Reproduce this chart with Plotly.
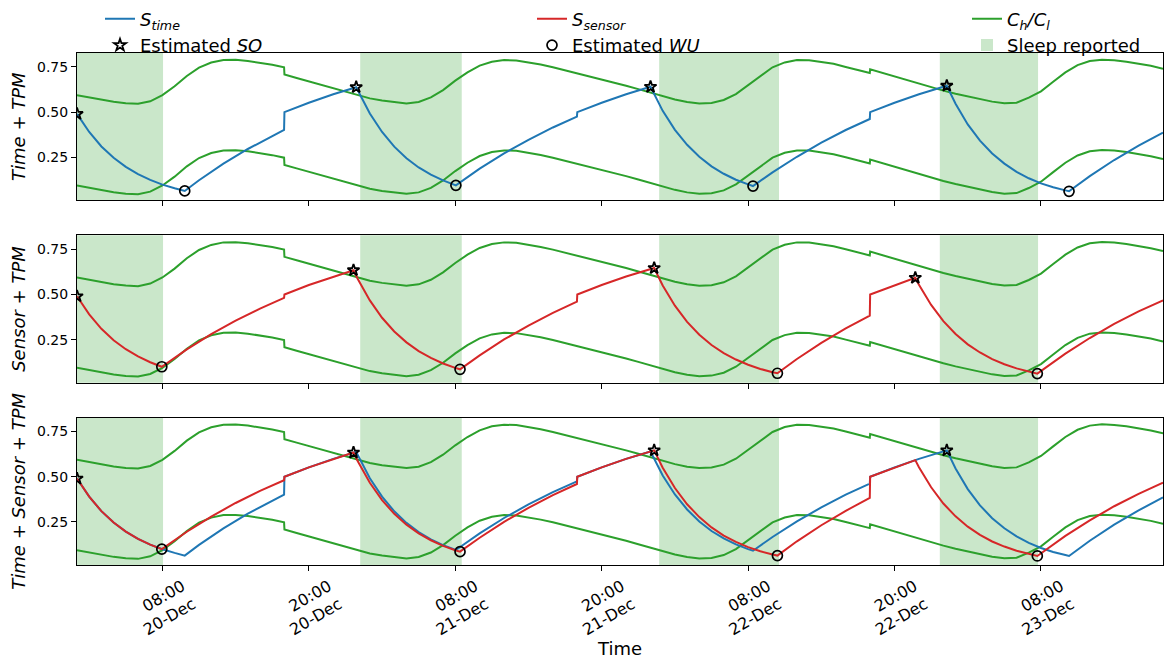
import pandas as pd
import plotly.graph_objects as go
from plotly.subplots import make_subplots

# Time axis: hours elapsed since 20-Dec 00:00
DAY0 = pd.Timestamp("2019-12-20 00:00")

# Circadian thresholds (upper C_h and lower C_l), sampled hourly
THRESH_HOURS = [1, 2, 3, 4, 5, 6, 7, 8, 9, 10, 11, 12, 13, 14, 15, 16, 17, 17.97,
                18, 19, 20, 21, 22, 23, 24, 25, 26, 27, 28, 29, 30, 31, 32, 33, 34, 35,
                36, 37, 38, 39, 40, 41, 41.97, 42, 43, 44, 45, 46, 47, 48, 49, 50, 51,
                52, 53, 54, 55, 56, 57, 58, 59, 60, 61, 62, 63, 64, 65, 65.97, 66, 67,
                68, 69, 70, 71, 72, 73, 74, 75, 76, 77, 78, 79, 80, 81, 82, 83, 84, 85,
                86, 87, 88, 89, 90]
C_HIGH = [0.594, 0.581, 0.568, 0.557, 0.549, 0.546, 0.560, 0.594, 0.643, 0.700, 0.746,
          0.774, 0.788, 0.789, 0.783, 0.774, 0.762, 0.748,
          0.708, 0.689, 0.670, 0.650, 0.630, 0.610, 0.591, 0.576, 0.564, 0.554, 0.548,
          0.556, 0.581, 0.622, 0.674, 0.720, 0.757, 0.779,
          0.788, 0.786, 0.776, 0.763, 0.748, 0.731, 0.714, 0.717, 0.700, 0.682, 0.664,
          0.646, 0.627, 0.608, 0.588, 0.570, 0.556,
          0.548, 0.551, 0.567, 0.600, 0.650, 0.703, 0.748, 0.775, 0.788, 0.787, 0.779,
          0.767, 0.750, 0.733, 0.716, 0.737, 0.717,
          0.697, 0.677, 0.657, 0.637, 0.619, 0.602, 0.586, 0.571, 0.558, 0.549, 0.552,
          0.580, 0.615, 0.668, 0.720, 0.760, 0.783, 0.790,
          0.787, 0.779, 0.768, 0.756, 0.740]
C_LOW = [0.094, 0.081, 0.068, 0.057, 0.049, 0.046, 0.060, 0.094, 0.143, 0.200, 0.246,
         0.274, 0.288, 0.289, 0.283, 0.274, 0.262, 0.248,
         0.208, 0.189, 0.170, 0.150, 0.130, 0.110, 0.091, 0.076, 0.064, 0.054, 0.048,
         0.056, 0.081, 0.122, 0.174, 0.220, 0.257, 0.279,
         0.288, 0.286, 0.276, 0.263, 0.248, 0.231, 0.214, 0.217, 0.200, 0.182, 0.164,
         0.146, 0.127, 0.108, 0.088, 0.070, 0.056,
         0.048, 0.051, 0.067, 0.100, 0.150, 0.203, 0.248, 0.275, 0.288, 0.287, 0.279,
         0.267, 0.250, 0.233, 0.216, 0.237, 0.217,
         0.197, 0.177, 0.157, 0.137, 0.119, 0.102, 0.086, 0.071, 0.058, 0.049, 0.052,
         0.080, 0.115, 0.168, 0.220, 0.260, 0.283, 0.290,
         0.287, 0.279, 0.268, 0.256, 0.240]

# Homeostatic pressure driven by time of day (S_time)
S_TIME_HOURS = [1, 2, 3, 4, 5, 6, 7, 8, 9, 9.83, 11, 13, 15, 17, 17.97, 18, 20, 22,
                23.88, 25, 26, 27, 28, 29, 30, 31, 32.05, 34, 36, 38, 40, 41.97, 42, 44,
                46, 48.0, 49, 50, 51, 52, 53, 54, 55, 56, 56.4, 58, 60, 62, 64, 65.97,
                66, 68, 70, 72.28, 73, 74, 75, 76, 77, 78, 79, 80, 81, 82, 82.3, 84, 86,
                88, 90]
S_TIME = [0.490, 0.390, 0.310, 0.247, 0.197, 0.157, 0.125, 0.099, 0.079, 0.064, 0.123,
          0.215, 0.296, 0.369, 0.401, 0.500, 0.552, 0.599,
          0.638, 0.492, 0.390, 0.309, 0.245, 0.194, 0.154, 0.122, 0.095, 0.187, 0.272,
          0.347, 0.415, 0.475, 0.500, 0.552,
          0.599, 0.640, 0.507, 0.402, 0.319, 0.253, 0.200, 0.159, 0.126, 0.100, 0.091,
          0.167, 0.253, 0.331, 0.401, 0.462,
          0.500, 0.552, 0.599, 0.646, 0.546, 0.432, 0.342, 0.271, 0.215, 0.170, 0.134,
          0.106, 0.084, 0.067, 0.062, 0.146, 0.235,
          0.314, 0.386]

# Homeostatic pressure driven by the sensor (S_sensor)
S_SENSOR_HOURS = [1, 2, 3, 4, 5, 6, 7, 7.95, 10, 12, 14, 16, 17.97, 18, 20, 22, 23.66,
                  24, 25, 26, 27, 28, 29, 30, 31, 32, 32.39, 34, 36, 38, 40, 41.97, 42,
                  44, 46, 48.3, 49, 50, 51, 52, 53, 54, 55, 56, 57, 58, 58.4, 60, 62, 64,
                  65.97, 66, 68, 69.7, 70, 71, 72, 73, 74, 75, 76, 77, 78, 79, 79.7, 82,
                  84, 86, 88, 90]
S_SENSOR = [0.490, 0.390, 0.310, 0.247, 0.197, 0.157, 0.125, 0.100, 0.196, 0.280, 0.355,
            0.422, 0.481, 0.500, 0.552, 0.599, 0.634,
            0.587, 0.467, 0.371, 0.295, 0.235, 0.187, 0.149, 0.118, 0.094, 0.086, 0.163,
            0.251, 0.328, 0.398, 0.460, 0.500,
            0.552, 0.599, 0.646, 0.550, 0.438, 0.348, 0.277, 0.220, 0.175, 0.140, 0.111,
            0.088, 0.070, 0.064, 0.143, 0.232, 0.312,
            0.383, 0.500, 0.552, 0.592, 0.553, 0.442, 0.352, 0.281, 0.224, 0.179, 0.142,
            0.114, 0.091, 0.072, 0.062, 0.173,
            0.259, 0.337, 0.406, 0.467]

# Estimated sleep onset (SO) and wake-up (WU) for each model
SO_TIME_HOURS, SO_TIME = [1, 23.88, 48.0, 72.28], [0.490, 0.638, 0.640, 0.646]
WU_TIME_HOURS, WU_TIME = [9.83, 32.05, 56.4, 82.3], [0.064, 0.095, 0.091, 0.062]
SO_SENSOR_HOURS, SO_SENSOR = [1, 23.66, 48.3, 69.7], [0.490, 0.634, 0.646, 0.592]
WU_SENSOR_HOURS, WU_SENSOR = [7.95, 32.39, 58.4, 79.7], [0.100, 0.086, 0.064, 0.062]
SO_BOTH_HOURS, SO_BOTH = [1, 23.66, 48.3, 72.28], [0.490, 0.634, 0.646, 0.646]
WU_BOTH_HOURS, WU_BOTH = [7.95, 32.39, 58.4, 79.7], [0.100, 0.086, 0.064, 0.062]

# Self-reported sleep periods
SLEEP_START = [0.0, 24.21, 48.71, 71.71]
SLEEP_END = [8.05, 32.53, 58.53, 79.76]

TICK_HOURS = [8, 20, 32, 44, 56, 68, 80]
TICK_LABELS = ["08:00<br>20-Dec", "20:00<br>20-Dec", "08:00<br>21-Dec", "20:00<br>21-Dec",
               "08:00<br>22-Dec", "20:00<br>22-Dec", "08:00<br>23-Dec"]
X_START, X_END = 1, 90

BLUE, RED, GREEN = "#1f77b4", "#d62728", "#2ca02c"
FONT = "DejaVu Sans"


def at(hours):
    return DAY0 + pd.to_timedelta(hours, unit="h")


fig = make_subplots(rows=3, cols=1, shared_xaxes=True, vertical_spacing=35 / 512)

panels = [
    dict(curves=["time"], so=(SO_TIME_HOURS, SO_TIME), wu=(WU_TIME_HOURS, WU_TIME),
         title="<i>Time</i> + <i>TPM</i>"),
    dict(curves=["sensor"], so=(SO_SENSOR_HOURS, SO_SENSOR), wu=(WU_SENSOR_HOURS, WU_SENSOR),
         title="<i>Sensor</i> + <i>TPM</i>"),
    dict(curves=["time", "sensor"], so=(SO_BOTH_HOURS, SO_BOTH), wu=(WU_BOTH_HOURS, WU_BOTH),
         title="<i>Time</i> + <i>Sensor</i> + <i>TPM</i>"),
]

star = dict(symbol="star-open", size=9, color="black", line=dict(width=1.8, color="black"))
ring = dict(symbol="circle-open", size=10, color="black", line=dict(width=1.7, color="black"))

for r, p in enumerate(panels, start=1):
    first = r == 1
    # threshold curves
    for k, vals in enumerate([C_HIGH, C_LOW]):
        fig.add_trace(go.Scatter(x=at(THRESH_HOURS), y=vals, mode="lines",
                                 line=dict(color=GREEN, width=2),
                                 name="<i>C<sub>h</sub>/C<sub>l</sub></i>",
                                 legend="legend3", legendgroup="thr", legendrank=1,
                                 showlegend=first and k == 0), row=r, col=1)
    if "time" in p["curves"]:
        fig.add_trace(go.Scatter(x=at(S_TIME_HOURS), y=S_TIME, mode="lines",
                                 line=dict(color=BLUE, width=2),
                                 name="<i>S<sub>time</sub></i>", legend="legend",
                                 legendgroup="stime", legendrank=1,
                                 showlegend=first), row=r, col=1)
    if "sensor" in p["curves"]:
        fig.add_trace(go.Scatter(x=at(S_SENSOR_HOURS), y=S_SENSOR, mode="lines",
                                 line=dict(color=RED, width=2),
                                 name="<i>S<sub>sensor</sub></i>", legend="legend2",
                                 legendgroup="ssensor", legendrank=1,
                                 showlegend=(r == 2)), row=r, col=1)
    fig.add_trace(go.Scatter(x=at(p["so"][0]), y=p["so"][1], mode="markers", marker=star,
                             name="Estimated <i>SO</i>", legend="legend",
                             legendgroup="so", legendrank=2, showlegend=first),
                  row=r, col=1)
    fig.add_trace(go.Scatter(x=at(p["wu"][0]), y=p["wu"][1], mode="markers", marker=ring,
                             name="Estimated <i>WU</i>", legend="legend2",
                             legendgroup="wu", legendrank=2, showlegend=first),
                  row=r, col=1)
    for i, (s, e) in enumerate(zip(SLEEP_START, SLEEP_END)):
        fig.add_vrect(x0=at(s), x1=at(e), row=r, col=1,
                      fillcolor="rgba(44,160,44,0.25)", line_width=0, layer="below",
                      name="Sleep reported", legend="legend3", legendgroup="sleep",
                      legendrank=2, showlegend=first and i == 0)

    fig.update_yaxes(title=dict(text=p["title"], font=dict(size=18, color="black"),
                                standoff=6), row=r, col=1)

axis_style = dict(showline=True, mirror=True, linecolor="black", linewidth=1,
                  ticks="outside", ticklen=5, tickwidth=1, tickcolor="black",
                  showgrid=False, zeroline=False)

fig.update_xaxes(range=[at(X_START), at(X_END)], tickvals=at(TICK_HOURS),
                 ticktext=TICK_LABELS, tickangle=-30,
                 tickfont=dict(size=16, color="black"), **axis_style)
fig.update_xaxes(title=dict(text="Time", font=dict(size=18, color="black"), standoff=2),
                 ticklabelshift=20, row=3, col=1)
fig.update_yaxes(range=[0.012, 0.827], tickvals=[0.25, 0.5, 0.75], tickformat=".2f",
                 tickfont=dict(size=14, color="black"), **axis_style)

# legends sit in the top margin, their top edge flush with the figure top
legend_common = dict(xanchor="left", yanchor="top", y=1 + 52.5 / 512, orientation="v",
                     bgcolor="rgba(0,0,0,0)", tracegroupgap=0,
                     font=dict(family=FONT, size=18, color="black"))

fig.update_layout(
    width=1164, height=659,
    margin=dict(l=77, r=1, t=53, b=94),
    paper_bgcolor="white", plot_bgcolor="white",
    font=dict(family=FONT, color="black"),
    legend=dict(x=(100 - 77) / 1086, **legend_common),
    legend2=dict(x=(532 - 77) / 1086, **legend_common),
    legend3=dict(x=(967 - 77) / 1086, **legend_common),
)

fig.write_html("out.html")
